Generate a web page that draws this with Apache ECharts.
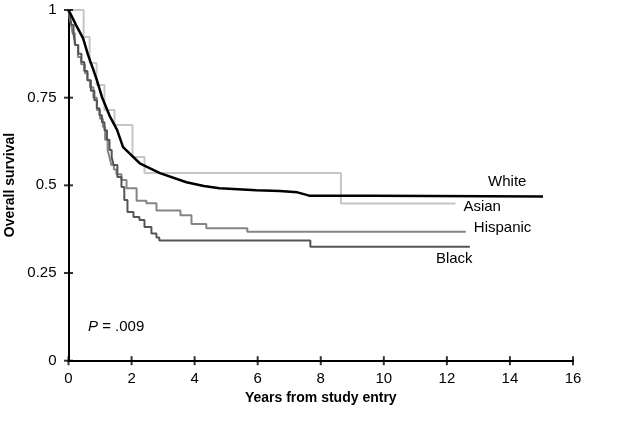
<!DOCTYPE html>
<html>
<head>
<meta charset="utf-8">
<script src="https://cdn.jsdelivr.net/npm/echarts@6/dist/echarts.min.js"></script>
<style>
html,body{margin:0;padding:0;background:#fff;}
#chart{width:640px;height:421px;}
</style>
</head>
<body>
<div id="chart"></div>
<script>
// ---- data ----
const xTicks = [0, 2, 4, 6, 8, 10, 12, 14, 16];
const yTicks = [0, 0.25, 0.5, 0.75, 1];

const groupNames = ['White', 'Asian', 'Hispanic', 'Black'];

const whiteTime = [0, 0.08, 0.24, 0.46, 0.62, 0.77, 0.90, 1.06, 1.32, 1.54, 1.73, 2.26, 2.90, 3.74, 4.29, 4.79, 5.96, 6.70, 7.26, 7.58, 7.65, 9.62, 9.66, 15.05];
const whiteSurv = [1, 0.986, 0.957, 0.920, 0.872, 0.834, 0.800, 0.752, 0.695, 0.658, 0.609, 0.563, 0.535, 0.509, 0.498, 0.492, 0.486, 0.484, 0.480, 0.472, 0.470, 0.470, 0.468, 0.468];

const asianTime = [0, 0.48, 0.67, 0.89, 1.14, 1.46, 2.03, 2.41, 8.64, 12.27];
const asianSurv = [1, 0.923, 0.849, 0.786, 0.715, 0.672, 0.581, 0.535, 0.448, 0.448];

const hispanicTime = [0, 0.04, 0.09, 0.13, 0.20, 0.30, 0.40, 0.52, 0.60, 0.68, 0.79, 0.90, 1.00, 1.09, 1.16, 1.24, 1.30, 1.36, 1.44, 1.52, 1.68, 1.84, 2.16, 2.47, 2.79, 3.55, 3.90, 4.37, 5.67, 12.60];
const hispanicSurv = [1, 0.975, 0.955, 0.934, 0.900, 0.866, 0.845, 0.820, 0.800, 0.780, 0.750, 0.715, 0.690, 0.667, 0.630, 0.601, 0.580, 0.558, 0.545, 0.532, 0.515, 0.492, 0.456, 0.449, 0.428, 0.415, 0.390, 0.378, 0.368, 0.368];

const blackTime = [0, 0.05, 0.095, 0.16, 0.22, 0.31, 0.41, 0.50, 0.60, 0.71, 0.82, 0.90, 0.98, 1.06, 1.14, 1.22, 1.30, 1.37, 1.43, 1.55, 1.68, 1.77, 1.87, 2.06, 2.25, 2.41, 2.63, 2.79, 2.88, 7.67, 12.73];
const blackSurv = [1, 0.980, 0.957, 0.930, 0.900, 0.875, 0.852, 0.826, 0.800, 0.770, 0.743, 0.720, 0.700, 0.680, 0.657, 0.630, 0.601, 0.580, 0.558, 0.524, 0.495, 0.458, 0.424, 0.410, 0.401, 0.381, 0.363, 0.351, 0.343, 0.325, 0.325];

const pValueText = '.009';
const xTitle = 'Years from study entry';
const yTitle = 'Overall survival';

// ---- chart ----
function pairs(t, s) { return t.map((v, i) => [v, s[i]]); }

const FONT = '"Liberation Sans", Arial, sans-serif';
const chart = echarts.init(document.getElementById('chart'), null, {renderer: 'canvas'});

const axisStrokeX = {color: '#000', width: 2};
const axisStrokeY = {color: '#000', width: 2};

function seriesDef(name, data, color, width, step, z, labelOffset) {
  return {
    name: name,
    type: 'line',
    data: data,
    step: step,
    showSymbol: false,
    symbol: 'none',
    z: z,
    lineStyle: {color: color, width: width},
    emphasis: {disabled: true},
    animation: false,
    endLabel: {
      show: true,
      formatter: name,
      color: '#000',
      fontFamily: FONT,
      fontSize: 15,
      offset: labelOffset
    }
  };
}

// tick marks crossing the axes, placed through the axis scales
function tickSeries(data, size) {
  return {
    type: 'scatter',
    data: data,
    symbol: 'rect',
    symbolSize: size,
    itemStyle: {color: '#000'},
    silent: true,
    clip: false,
    z: 10,
    emphasis: {disabled: true},
    animation: false
  };
}

chart.setOption({
  animation: false,
  backgroundColor: '#fff',
  grid: {left: 68.5, right: 67, top: 10, bottom: 60.3, containLabel: false},
  xAxis: {
    type: 'value',
    min: xTicks[0],
    max: xTicks[xTicks.length - 1],
    interval: xTicks[1] - xTicks[0],
    position: 'bottom',
    name: xTitle,
    nameLocation: 'middle',
    nameGap: 26,
    nameTextStyle: {fontFamily: FONT, fontSize: 14, fontWeight: 'bold', color: '#000'},
    axisLine: {show: true, onZero: false, lineStyle: axisStrokeX},
    axisTick: {show: false},
    axisLabel: {show: true, margin: 11, fontFamily: FONT, fontSize: 15, color: '#000'},
    splitLine: {show: false}
  },
  yAxis: {
    type: 'value',
    min: yTicks[0],
    max: yTicks[yTicks.length - 1],
    interval: yTicks[1] - yTicks[0],
    position: 'left',
    axisLine: {show: true, onZero: false, lineStyle: axisStrokeY},
    axisTick: {show: false},
    axisLabel: {show: true, margin: 12, fontFamily: FONT, fontSize: 15, color: '#000'},
    splitLine: {show: false}
  },
  series: [
    seriesDef(groupNames[1], pairs(asianTime, asianSurv), '#c6c6c6', 2, 'end', 2, [0, 3]),
    seriesDef(groupNames[2], pairs(hispanicTime, hispanicSurv), '#858585', 2, 'end', 3, [0, -4]),
    seriesDef(groupNames[3], pairs(blackTime, blackSurv), '#555555', 2, 'end', 4, [-42, 12]),
    seriesDef(groupNames[0], pairs(whiteTime, whiteSurv), '#000000', 2.5, false, 5, [-63, -15]),
    tickSeries(xTicks.map(v => [v, yTicks[0]]), [2, 9]),
    tickSeries(yTicks.map(v => [xTicks[0], v]), [9, 2])
  ],
  graphic: [
    {
      type: 'text',
      x: 10,
      y: 185,
      rotation: Math.PI / 2,
      style: {
        text: yTitle,
        align: 'center',
        verticalAlign: 'middle',
        fontFamily: FONT,
        fontSize: 14,
        fontWeight: 'bold',
        fill: '#000'
      }
    },
    {
      type: 'text',
      left: 88,
      top: 319,
      style: {
        text: '{i|P}{n| = ' + pValueText + '}',
        rich: {
          i: {fontFamily: FONT, fontSize: 15, fontStyle: 'italic', fill: '#000'},
          n: {fontFamily: FONT, fontSize: 15, fill: '#000'}
        }
      }
    }
  ]
});
</script>
</body>
</html>
